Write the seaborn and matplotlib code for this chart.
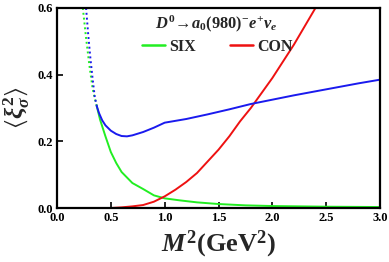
import matplotlib
matplotlib.use("Agg")
import matplotlib.pyplot as plt
import seaborn as sns
import numpy as np

# ---- data ----
six_dot_x = [0.24, 0.27, 0.30, 0.33, 0.35, 0.37]
six_dot_y = [0.60, 0.51, 0.43, 0.36, 0.33, 0.305]
six_x = [0.37, 0.40, 0.45, 0.50, 0.55, 0.60, 0.70, 0.80, 0.90, 1.00, 1.14, 1.30, 1.50, 1.75, 2.00, 2.50, 3.00]
six_y = [0.305, 0.265, 0.215, 0.168, 0.135, 0.108, 0.075, 0.057, 0.038, 0.029, 0.023, 0.017, 0.012, 0.008, 0.006, 0.004, 0.003]

con_x = [0.0, 0.5, 0.6, 0.7, 0.8, 0.9, 1.0, 1.1, 1.2, 1.3, 1.4, 1.5, 1.6, 1.7, 1.8, 1.9, 2.0, 2.1, 2.2, 2.3, 2.4]
con_y = [0.0, 0.0, 0.002, 0.005, 0.009, 0.019, 0.035, 0.055, 0.078, 0.105, 0.14, 0.175, 0.215, 0.26, 0.30, 0.345, 0.39, 0.44, 0.49, 0.545, 0.60]

tot_dot_x = [0.27, 0.29, 0.31, 0.33, 0.35, 0.37]
tot_dot_y = [0.60, 0.52, 0.45, 0.39, 0.335, 0.305]
tot_x = [0.37, 0.39, 0.42, 0.45, 0.50, 0.55, 0.60, 0.65, 0.70, 0.80, 0.90, 1.00, 1.20, 1.40, 1.60, 1.80, 2.00, 2.20, 2.40, 2.60, 2.80, 3.00]
tot_y = [0.305, 0.285, 0.263, 0.248, 0.232, 0.222, 0.216, 0.215, 0.218, 0.228, 0.241, 0.256, 0.267, 0.281, 0.296, 0.312, 0.325, 0.338, 0.350, 0.362, 0.374, 0.385]

x_ticks = [0.0, 0.5, 1.0, 1.5, 2.0, 2.5, 3.0]
y_ticks = [0.0, 0.2, 0.4, 0.6]

sns.set_theme(style="ticks")
plt.rcParams['font.family'] = ['Liberation Serif', 'DejaVu Serif']
plt.rcParams['mathtext.fontset'] = 'custom'
plt.rcParams['mathtext.rm'] = 'Liberation Serif:bold'
plt.rcParams['mathtext.it'] = 'Liberation Serif:bold:italic'
plt.rcParams['mathtext.bf'] = 'Liberation Serif:bold'
plt.rcParams['mathtext.fallback'] = 'stix'

fig = plt.figure(figsize=(3.89, 2.62), dpi=100)
ax = fig.add_axes([0.1465, 0.206, 0.8305, 0.7635])

GREEN = '#22ee22'
RED = '#ee1111'
BLUE = '#1a1aee'

sns.lineplot(x=six_dot_x, y=six_dot_y, ax=ax, color=GREEN, lw=1.4, linestyle=(0, (1, 1.5)), sort=False)
sns.lineplot(x=six_x, y=six_y, ax=ax, color=GREEN, lw=1.4, sort=False, label='SIX')
sns.lineplot(x=con_x, y=con_y, ax=ax, color=RED, lw=1.4, sort=False, label='CON')
sns.lineplot(x=tot_dot_x, y=tot_dot_y, ax=ax, color=BLUE, lw=1.4, linestyle=(0, (1, 1.5)), sort=False)
sns.lineplot(x=tot_x, y=tot_y, ax=ax, color=BLUE, lw=1.4, sort=False)

ax.set_xlim(0, 3.0)
ax.set_ylim(0, 0.6)
ax.set_xticks(x_ticks)
ax.set_yticks(y_ticks)
ax.set_xticklabels([f"{v:.1f}" for v in x_ticks], fontweight='bold', fontsize=9)
ax.set_yticklabels([f"{v:.1f}" for v in y_ticks], fontweight='bold', fontsize=9)
ax.tick_params(direction='in', length=4, width=1.2, pad=3, colors='black')
for s in ax.spines.values():
    s.set_linewidth(1.6)
    s.set_color('black')

ax.set_xlabel(r'$M^2$(GeV$^2$)', fontsize=19, fontweight='bold', labelpad=3)
ax.set_ylabel(r'$\langle\xi_\sigma^2\rangle$', fontsize=18, labelpad=4)

ax.text(0.303, 0.8985, r'$D^0\!\rightarrow\! a_0(980)^{-} e^{+}\nu_e$', transform=ax.transAxes,
        fontsize=11.8, ha='left', va='baseline')

leg = ax.legend(loc='center left', bbox_to_anchor=(0.262, 0.805), ncol=2, frameon=False,
                prop={'family': 'Liberation Serif', 'weight': 'bold', 'size': 11.5},
                handlelength=1.45, handletextpad=0.3, columnspacing=2.1,
                borderpad=0, borderaxespad=0)
for h in leg.get_lines():
    h.set_linewidth(1.8)

fig.savefig('out.png', dpi=100)
